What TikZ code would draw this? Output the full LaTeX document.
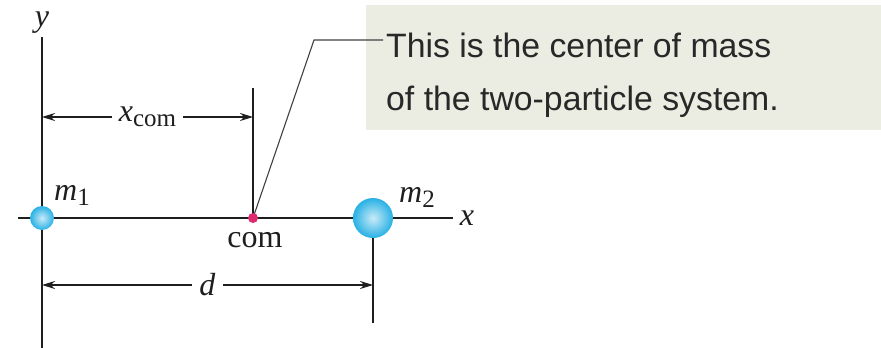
\documentclass[tikz,border=0pt]{standalone}
\usepackage{fontspec}
\setmainfont{Liberation Serif}
\newfontfamily\boxfont{Liberation Sans}
\usetikzlibrary{arrows.meta}
\definecolor{boxbg}{RGB}{235,236,226}
\definecolor{ballc}{RGB}{40,176,228}
\definecolor{comc}{RGB}{222,42,110}
\definecolor{boxtext}{RGB}{40,40,40}
\definecolor{linec}{RGB}{30,30,30}
\newcommand\mysub[1]{\raisebox{-0.35ex}{\fontsize{25}{28}\selectfont #1}}
\begin{document}
\begin{tikzpicture}[x=1pt,y=-1pt,
  ln/.style={line width=1.6pt, draw=linec},
  dimline/.style={ln, {Stealth[length=13pt,width=8pt]}-{Stealth[length=13pt,width=8pt]}},
  lab/.style={font=\fontsize{32}{36}\selectfont, inner sep=0pt, text=linec},
  dimlab/.style={lab, fill=white, inner xsep=7pt, inner ysep=2pt},
  boxline/.style={anchor=base west, font=\boxfont\fontsize{33.8}{40}\selectfont, text=boxtext, inner sep=0pt},
  ball/.style={circle, inner sep=0pt, inner color=ballc!25!white, outer color=ballc},
  ]
\useasboundingbox (0,0) rectangle (881,348);
% callout box
\node[fill=boxbg, minimum width=515pt, minimum height=125pt, anchor=north west, inner sep=0pt] (box) at (366,5) {};
\node[boxline] (t1) at (386,57) {This is the center of mass};
\node[boxline] (t2) at (386,110) {of the two-particle system.};
% coordinates
\coordinate (ytop) at (42,37);
\coordinate (ybot) at (42,348);
\coordinate (xl) at (18,218);
\coordinate (xr) at (453,218);
\coordinate (c1) at (42,218);
\coordinate (c2) at (373,218);
\coordinate (cc) at (253,218);
\coordinate (comtop) at (253,88);
\coordinate (m2bot) at (373,323);
\coordinate (bend) at (314,40);
\coordinate (leadend) at (383,40);
\coordinate (a1) at (42,117);
\coordinate (a2) at (253,117);
\coordinate (d1) at (42,285);
\coordinate (d2) at (373,285);
% axes and guide lines
\draw[ln] (ytop) -- (ybot);
\draw[ln] (xl) -- (xr);
\draw[ln] (comtop) -- (cc);
\draw[ln] (c2) -- (m2bot);
\draw[line width=1.1pt, draw=linec!85] (cc) -- (bend) -- (leadend);
% dimension arrows
\draw[dimline] (a1) -- node[dimlab] (xcom) {\textit{x}\mysub{com}} (a2);
\draw[dimline] (d1) -- node[dimlab] (dlab) {\textit{d}} (d2);
% particles
\node[ball, minimum size=24pt] (m1) at (c1) {};
\node[ball, minimum size=40pt] (m2) at (c2) {};
\node[circle, fill=comc, minimum size=10pt, inner sep=0pt] (com) at (cc) {};
% labels
\node[lab, anchor=base] (ylab) at (42,27) {\textit{y}};
\node[lab, anchor=base] (xlab) at (467,225) {\textit{x}};
\node[lab, anchor=base west] (m1lab) at (54,200) {\textit{m}\mysub{1}};
\node[lab, anchor=base west] (m2lab) at (399,202) {\textit{m}\mysub{2}};
\node[lab, anchor=base] (comlab) at (255,247) {com};
\end{tikzpicture}
\end{document}
